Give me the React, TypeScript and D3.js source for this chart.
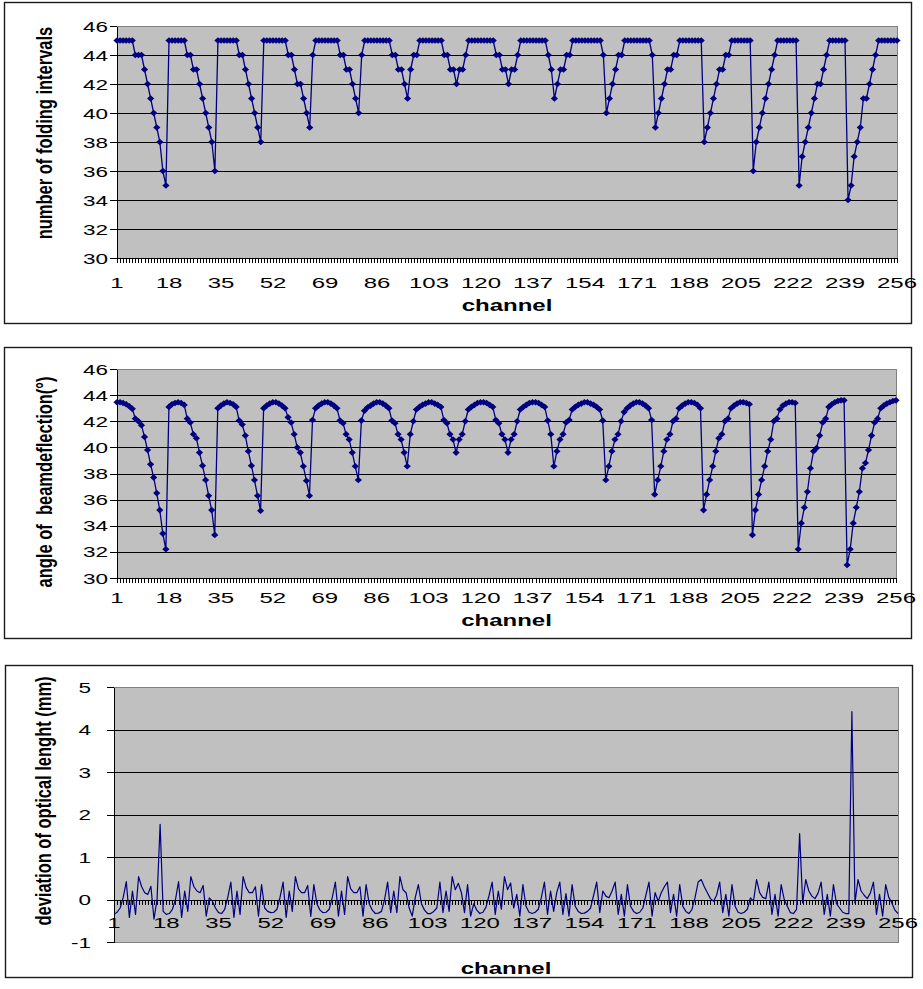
import { useEffect, useRef } from 'react';
import * as d3 from 'd3';

// categories: channel numbers, a label on every 17th one
const channels = d3.range(1, 257);
const channelLabels = [1, 18, 35, 52, 69, 86, 103, 120, 137, 154, 171, 188, 205, 222, 239, 256];

const foldTicks = [30, 32, 34, 36, 38, 40, 42, 44, 46];
const angleTicks = [30, 32, 34, 36, 38, 40, 42, 44, 46];
const deviationTicks = [-1, 0, 1, 2, 3, 4, 5];

// number of folding intervals per channel (one row per dip)
const foldingIntervals = [
  45, 45, 45, 45, 45, 45, 44, 44, 44, 43, 42, 41, 40, 39, 38, 36, 35,
  45, 45, 45, 45, 45, 45, 44, 44, 43, 43, 42, 41, 40, 39, 38, 36,
  45, 45, 45, 45, 45, 45, 45, 44, 44, 43, 42, 41, 40, 39, 38,
  45, 45, 45, 45, 45, 45, 45, 45, 44, 44, 43, 42, 42, 41, 40, 39,
  44, 45, 45, 45, 45, 45, 45, 45, 45, 44, 44, 43, 43, 42, 41, 40,
  44, 45, 45, 45, 45, 45, 45, 45, 45, 45, 44, 44, 43, 43, 42, 41,
  43, 44, 44, 45, 45, 45, 45, 45, 45, 45, 45, 44, 44, 43, 43, 42,
  43, 43, 44, 45, 45, 45, 45, 45, 45, 45, 45, 45, 44, 44, 43, 43, 42,
  43, 43, 44, 45, 45, 45, 45, 45, 45, 45, 45, 45, 44, 43, 41, 42,
  43, 43, 44, 44, 45, 45, 45, 45, 45, 45, 45, 45, 45, 45, 44, 40,
  41, 42, 43, 44, 44, 45, 45, 45, 45, 45, 45, 45, 45, 45, 44, 39,
  40, 41, 42, 43, 43, 44, 44, 45, 45, 45, 45, 45, 45, 45, 45, 38,
  39, 40, 41, 42, 43, 43, 44, 44, 45, 45, 45, 45, 45, 45, 45, 36,
  38, 39, 40, 41, 42, 43, 44, 45, 45, 45, 45, 45, 45, 45, 35,
  37, 38, 39, 40, 41, 42, 42, 43, 44, 45, 45, 45, 45, 45, 45, 34,
  35, 37, 38, 39, 41, 41, 42, 43, 44, 45, 45, 45, 45, 45, 45, 45,
];

// angle of beam deflection (degrees)
const deflectionAngle = [
  43.45, 43.45, 43.4, 43.3, 43.15, 42.95, 42.2, 42.0, 41.7, 40.8, 39.8, 38.7, 37.7, 36.5, 35.2, 33.4, 32.2,
  43.1, 43.3, 43.4, 43.45, 43.4, 43.25, 42.2, 41.9, 41.0, 40.7, 39.6, 38.6, 37.5, 36.3, 35.2, 33.3,
  43.0, 43.2, 43.35, 43.45, 43.4, 43.3, 43.1, 42.05, 41.75, 40.9, 39.7, 38.6, 37.5, 36.3, 35.15,
  43.0, 43.2, 43.35, 43.45, 43.45, 43.35, 43.2, 43.0, 42.3, 41.9, 41.0, 40.0, 39.6, 38.55, 37.45, 36.3,
  42.1, 43.0, 43.2, 43.35, 43.45, 43.45, 43.35, 43.2, 43.0, 42.05, 41.85, 41.0, 40.6, 39.6, 38.55, 37.5,
  42.05, 42.8, 43.05, 43.2, 43.35, 43.45, 43.45, 43.35, 43.2, 43.0, 42.05, 41.85, 41.0, 40.6, 39.6, 38.55,
  41.0, 42.0, 42.9, 43.1, 43.25, 43.35, 43.45, 43.45, 43.35, 43.25, 43.1, 42.1, 41.85, 41.0, 40.6, 39.6,
  40.6, 41.0, 42.0, 42.9, 43.1, 43.25, 43.4, 43.45, 43.45, 43.4, 43.25, 43.1, 42.1, 41.85, 41.0, 40.6, 39.6,
  40.6, 41.0, 42.0, 42.9, 43.1, 43.25, 43.4, 43.45, 43.45, 43.4, 43.25, 43.1, 42.05, 41.0, 38.55, 39.7,
  40.6, 41.0, 41.9, 42.1, 42.9, 43.1, 43.25, 43.35, 43.45, 43.45, 43.35, 43.25, 43.1, 42.9, 42.05, 37.5,
  38.55, 39.7, 40.6, 41.0, 42.0, 42.7, 43.0, 43.2, 43.35, 43.45, 43.45, 43.35, 43.2, 43.0, 42.1, 36.4,
  37.5, 38.55, 39.7, 40.6, 41.0, 42.0, 42.2, 43.0, 43.2, 43.35, 43.45, 43.45, 43.4, 43.25, 43.0, 35.2,
  36.4, 37.5, 38.55, 39.7, 40.7, 41.0, 42.0, 42.2, 43.0, 43.2, 43.35, 43.45, 43.45, 43.4, 43.3, 33.3,
  35.2, 36.4, 37.5, 38.55, 39.7, 40.6, 42.0, 42.2, 42.9, 43.2, 43.35, 43.45, 43.45, 43.4, 32.2,
  34.2, 35.4, 36.6, 38.4, 39.7, 39.95, 40.9, 41.9, 42.2, 43.1, 43.3, 43.45, 43.55, 43.6, 43.6, 31.0,
  32.2, 34.2, 35.4, 36.6, 38.4, 38.8, 39.8, 40.9, 41.9, 42.2, 43.0, 43.2, 43.35, 43.45, 43.55, 43.6,
];

// deviation of optical length (mm)
const opticalDeviation = [
  -0.35, -0.3, -0.2, 0.05, 0.42, -0.42, 0.2, -0.35, 0.54, 0.3, 0.16, 0.12, 0.31, -0.46, 0.0, 1.77,
  -0.28, -0.35, -0.33, -0.23, 0.0, 0.42, -0.42, 0.2, -0.28, 0.54, 0.3, 0.2, 0.16, 0.33, -0.39, 0.04,
  -0.04, -0.2, -0.31, -0.33, -0.23, 0.05, 0.41, -0.42, 0.2, -0.35, 0.54, 0.28, 0.16, 0.16, 0.3, -0.39,
  0.35, -0.2, -0.28, -0.31, -0.3, -0.23, 0.05, 0.41, -0.42, 0.2, -0.28, 0.54, 0.25, 0.16, 0.16, 0.33,
  -0.4, 0.35, -0.1, -0.25, -0.31, -0.3, -0.23, 0.05, 0.41, -0.39, 0.2, -0.35, 0.54, 0.25, 0.16, 0.16,
  0.3, -0.39, 0.35, -0.1, -0.25, -0.33, -0.32, -0.28, 0.0, 0.41, -0.31, 0.2, -0.31, 0.54, 0.23, 0.16,
  -0.2, -0.39, 0.05, 0.35, -0.1, -0.25, -0.33, -0.33, -0.28, -0.2, 0.41, -0.31, 0.2, -0.28, 0.54, 0.23,
  0.38, 0.16, -0.31, 0.35, -0.39, -0.1, -0.25, -0.33, -0.3, -0.18, 0.1, 0.41, -0.35, 0.2, -0.23, 0.54,
  0.23, 0.39, -0.2, 0.12, -0.39, 0.35, -0.16, -0.3, -0.33, -0.3, -0.23, 0.05, 0.41, -0.35, 0.2, -0.28,
  0.16, 0.41, -0.35, 0.14, -0.39, 0.35, -0.16, -0.28, -0.33, -0.32, -0.28, -0.2, 0.1, 0.41, -0.31, 0.2,
  0.08, 0.04, 0.2, 0.41, -0.35, 0.12, -0.39, 0.35, -0.16, -0.28, -0.33, -0.3, -0.2, 0.1, 0.41, -0.39,
  0.16, -0.04, 0.16, 0.3, 0.41, -0.31, 0.12, -0.39, 0.35, -0.16, -0.28, -0.33, -0.23, 0.05, 0.41, 0.47,
  0.3, 0.16, 0.02, -0.04, 0.1, 0.41, -0.31, 0.12, -0.39, 0.35, -0.16, -0.3, -0.33, -0.3, -0.23, 0.04,
  -0.04, 0.47, 0.16, 0.05, 0.02, 0.41, -0.35, 0.12, -0.39, 0.35, 0.0, -0.16, -0.31, -0.33, -0.23, 1.55,
  -0.08, 0.47, 0.2, 0.08, 0.02, 0.15, 0.41, -0.35, 0.12, -0.39, 0.35, -0.1, -0.2, -0.3, -0.33, -0.33,
  4.42, -0.08, 0.47, 0.2, 0.1, 0.02, 0.15, 0.41, -0.35, 0.12, -0.39, 0.35, 0.05, -0.08, -0.25, -0.33,
];

const FONT = "'Liberation Sans', Arial, Helvetica, sans-serif";
const NAVY = '#000080';

const panels = [
  {
    values: foldingIntervals, ticks: foldTicks, axisAt: 30, markers: true,
    title: 'number of folding intervals',
    box: [4, 2, 907, 321], left: 117, right: 897, top: 26, bottom: 258,
    yLabelX: 108, xLabelY: 288, channelY: 311, titleX: 44, titleY: 133,
  },
  {
    values: deflectionAngle, ticks: angleTicks, axisAt: 30, markers: true,
    title: 'angle of  beamdeflection(°)',
    box: [4, 347, 907, 291], left: 117, right: 896, top: 369, bottom: 578,
    yLabelX: 108, xLabelY: 603, channelY: 626, titleX: 44, titleY: 482,
  },
  {
    values: opticalDeviation, ticks: deviationTicks, axisAt: 0, markers: false,
    title: 'deviation of optical lenght (mm)',
    box: [5, 665, 907, 312], left: 114, right: 898, top: 687, bottom: 942,
    yLabelX: 91, xLabelY: 928, channelY: 974, titleX: 43, titleY: 801,
  },
];

function wideText(g: any, x: number, y: number, txt: any, size: number, anchor: string, sx: number, bold = false) {
  g.append('text')
    .attr('transform', `translate(${x},${y}) scale(${sx},1)`)
    .attr('text-anchor', anchor)
    .attr('font-family', FONT)
    .attr('font-size', size)
    .attr('font-weight', bold ? 'bold' : 'normal')
    .attr('fill', '#000')
    .text(txt);
}

function drawPanel(svg: any, p: any) {
  const g = svg.append('g');

  g.append('rect')
    .attr('x', p.box[0] + 0.5).attr('y', p.box[1] + 0.5)
    .attr('width', p.box[2]).attr('height', p.box[3])
    .attr('fill', '#fff').attr('stroke', '#1a1a1a').attr('stroke-width', 1.4);

  const x = d3.scalePoint<number>().domain(channels).range([p.left, p.right]);
  const y = d3.scaleLinear()
    .domain([p.ticks[0], p.ticks[p.ticks.length - 1]])
    .range([p.bottom, p.top]);

  g.append('rect')
    .attr('x', p.left + 0.5).attr('y', p.top + 0.5)
    .attr('width', p.right - p.left).attr('height', p.bottom - p.top)
    .attr('fill', '#c0c0c0').attr('stroke', '#808080');

  g.selectAll('line.grid')
    .data(p.ticks.slice(1, -1).filter((t: number) => t !== p.axisAt))
    .join('line')
    .attr('class', 'grid')
    .attr('x1', p.left).attr('x2', p.right)
    .attr('y1', (t: number) => Math.round(y(t)) + 0.5)
    .attr('y2', (t: number) => Math.round(y(t)) + 0.5)
    .attr('stroke', '#000').attr('shape-rendering', 'crispEdges');

  // y axis with outside ticks
  g.append('g')
    .attr('transform', `translate(${p.left},0)`)
    .call(d3.axisLeft(y).tickValues(p.ticks).tickSize(7).tickSizeOuter(0).tickFormat(() => ''))
    .attr('shape-rendering', 'crispEdges');

  // category axis, a tick on every channel
  g.append('g')
    .attr('transform', `translate(0,${Math.round(y(p.axisAt))})`)
    .call(d3.axisBottom(x).tickValues(channels).tickSize(5).tickSizeOuter(0).tickFormat(() => ''))
    .attr('shape-rendering', 'crispEdges');

  p.ticks.forEach((t: number) => wideText(g, p.yLabelX, y(t) + 5.5, t, 15, 'end', 1.5));
  channelLabels.forEach((c) => wideText(g, x(c) as number, p.xLabelY, c, 15, 'middle', 1.6));
  wideText(g, (p.left + p.right) / 2, p.channelY, 'channel', 16, 'middle', 1.5, true);

  g.append('text')
    .attr('transform', `translate(${p.titleX},${p.titleY}) rotate(-90) scale(1,1.3)`)
    .attr('text-anchor', 'middle')
    .attr('dy', '0.35em')
    .attr('font-family', FONT)
    .attr('font-size', 16.5)
    .attr('font-weight', 'bold')
    .style('white-space', 'pre')
    .text(p.title);

  const line = d3.line<number>()
    .x((d, i) => x(channels[i]) as number)
    .y((d) => y(d));

  g.append('path')
    .datum(p.values)
    .attr('d', line)
    .attr('fill', 'none')
    .attr('stroke', NAVY)
    .attr('stroke-width', p.markers ? 1.3 : 1.2)
    .attr('stroke-linejoin', 'round');

  if (p.markers) {
    const w = 3.6, h = 3.3;
    g.selectAll('path.mark')
      .data(p.values)
      .join('path')
      .attr('class', 'mark')
      .attr('transform', (d: number, i: number) => `translate(${x(channels[i])},${y(d)})`)
      .attr('d', `M0,${-h}L${w},0L0,${h}L${-w},0Z`)
      .attr('fill', NAVY);
  }
}

export default function App() {
  const ref = useRef<SVGSVGElement>(null);

  useEffect(() => {
    const svg = d3.select(ref.current);
    svg.selectAll('*').remove();
    panels.forEach((p) => drawPanel(svg, p));
  }, []);

  return (
    <svg
      ref={ref}
      width={923}
      height={989}
      style={{ position: 'absolute', left: 0, top: 0, background: '#fff', display: 'block' }}
    />
  );
}
